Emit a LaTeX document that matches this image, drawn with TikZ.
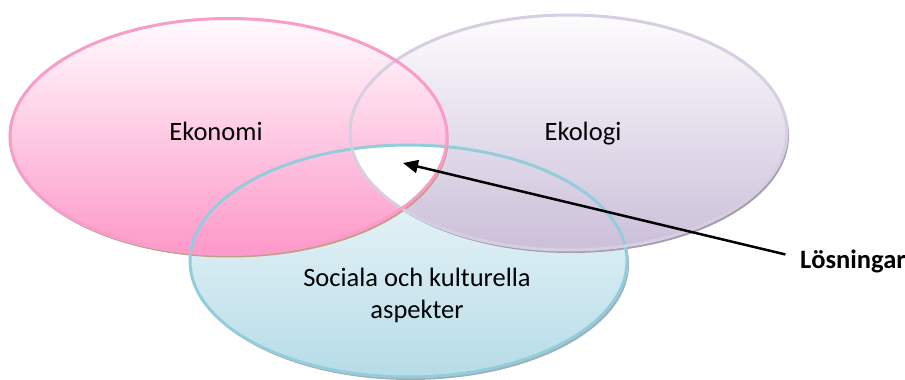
\documentclass[tikz,border=0pt]{standalone}
\usepackage{fontspec}
\setmainfont{Carlito}
\usetikzlibrary{arrows.meta}

% fills (top -> bottom), rims and drop shadows of the three sets
\definecolor{ekoTop}{HTML}{FFFBFD}
\definecolor{ekoBot}{HTML}{FE98C9}
\definecolor{ekoRim}{HTML}{F89CC8}
\definecolor{ekoShd}{HTML}{C29E86}
\definecolor{ekolTop}{HTML}{FDFCFE}
\definecolor{ekolBot}{HTML}{CBBFD9}
\definecolor{ekolRim}{HTML}{D6CEE1}
\definecolor{ekolShd}{HTML}{A69CB0}
\definecolor{socTop}{HTML}{F4FAFC}
\definecolor{socBot}{HTML}{B6DCE7}
\definecolor{socRim}{HTML}{93CDDC}
\definecolor{socShd}{HTML}{9FAFB7}

\newcommand\ekonomiShape{(228.5,136.5) ellipse [x radius=218.5pt, y radius=118pt]}
\newcommand\ekologiShape{(568.5,132.5) ellipse [x radius=218.5pt, y radius=117.5pt]}
\newcommand\socialaShape{(408.5,261) ellipse [x radius=218.5pt, y radius=116pt]}

\begin{document}
\begin{tikzpicture}[x=1pt,y=-1pt,
  lbl/.style={font=\fontsize{26.5}{32}\selectfont, align=center, inner sep=0pt},
  boldlbl/.style={font=\bfseries\fontsize{26.5}{32}\selectfont, inner sep=0pt},
  rim/.style={line width=3pt},
  pointer/.style={line width=2.5pt, -{Triangle[length=15pt,width=13pt]}},
]
\useasboundingbox (0,0) rectangle (905,380);

% social and cultural aspects
\fill[socShd] (410.5,264) ellipse [x radius=218.5pt, y radius=116pt];
\shade[top color=socTop, bottom color=socBot] \socialaShape;

% ecology
\fill[ekolShd] (570.5,135.5) ellipse [x radius=218.5pt, y radius=117.5pt];
\shade[top color=ekolTop, bottom color=ekolBot] \ekologiShape;

% economy
\fill[ekoShd] (230,139.5) ellipse [x radius=218.5pt, y radius=118pt];
\shade[top color=ekoTop, bottom color=ekoBot] \ekonomiShape;

% common region of all three
\begin{scope}
  \clip \ekonomiShape;
  \clip \ekologiShape;
  \fill[white] \socialaShape;
\end{scope}

% outlines
\draw[rim, socRim] \socialaShape;
\draw[rim, ekolRim] \ekologiShape;
\draw[rim, ekoRim] \ekonomiShape;

% labels
\node[lbl, anchor=base] (ekonomi) at (216,140) {Ekonomi};
\node[lbl, anchor=base] (ekologi) at (583,140) {Ekologi};
\node[lbl] (sociala) at (417,295.5) {Sociala och kulturella\\aspekter};
\node[boldlbl, anchor=base west] (losn) at (800,268) {Lösningar};

\coordinate (mitt) at (403,163);
\draw[pointer, shorten <=15pt] ([yshift=3pt]losn.west) -- (mitt);
\end{tikzpicture}
\end{document}
